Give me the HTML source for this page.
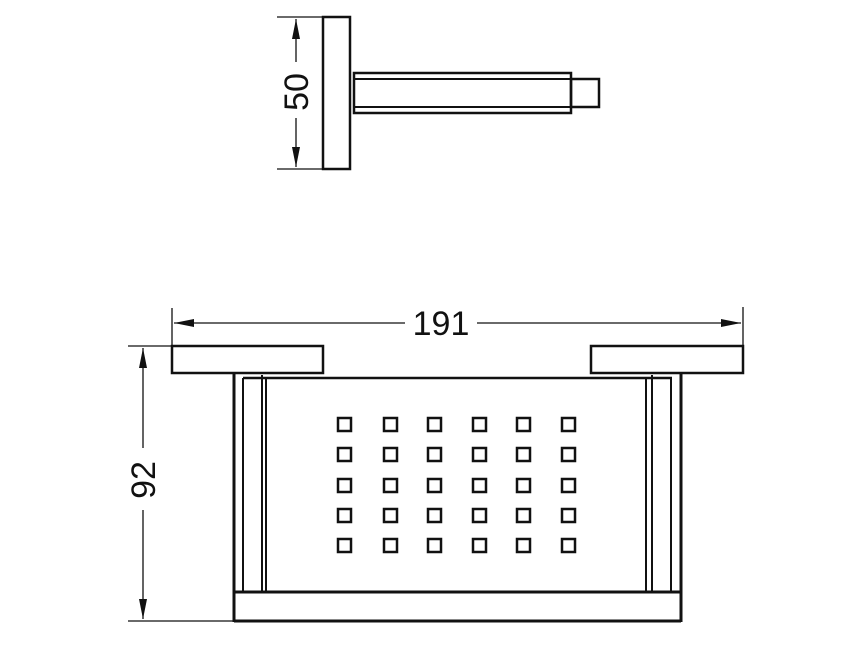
<!DOCTYPE html>
<html><head><style>body{margin:0;background:#fff}svg{display:block}</style></head><body>
<svg width="868" height="665" viewBox="0 0 868 665" xmlns="http://www.w3.org/2000/svg">
<defs><marker id="a" viewBox="0 0 10 10" refX="10" refY="5" markerWidth="10" markerHeight="10" markerUnits="userSpaceOnUse" orient="auto-start-reverse"><path d="M0,1.5L10,5L0,8.5z" fill="#111"/></marker>
<marker id="b" viewBox="0 0 20 10" refX="20" refY="5" markerWidth="20" markerHeight="10" markerUnits="userSpaceOnUse" orient="auto-start-reverse"><path d="M0,1L20,5L0,9z" fill="#111"/></marker></defs>
<g fill="none" stroke="#111" stroke-width="2.5">
<!-- top view -->
<rect x="323" y="17" width="27" height="152"/>
<rect x="354" y="73" width="217" height="40"/>
<line x1="354" y1="79" x2="571" y2="79" stroke-width="2"/>
<line x1="354" y1="107" x2="571" y2="107" stroke-width="2"/>
<rect x="571" y="79" width="28" height="28"/>
<!-- bars -->
<rect x="172" y="346" width="151" height="27"/>
<rect x="591" y="346" width="152" height="27"/>
<!-- walls -->
<line x1="234" y1="373" x2="234" y2="622" stroke-width="3"/>
<line x1="681" y1="373" x2="681" y2="622" stroke-width="3"/>
<line x1="243" y1="378" x2="672" y2="378" stroke-width="2.5"/>
<line x1="243" y1="378" x2="243" y2="592" stroke-width="2"/>
<line x1="262" y1="375" x2="262" y2="592" stroke-width="2"/>
<line x1="266" y1="378" x2="266" y2="592" stroke-width="2"/>
<line x1="646" y1="378" x2="646" y2="592" stroke-width="2"/>
<line x1="652" y1="375" x2="652" y2="592" stroke-width="2"/>
<line x1="671" y1="378" x2="671" y2="592" stroke-width="2"/>
<line x1="234" y1="592" x2="681" y2="592" stroke-width="3"/>
<line x1="234" y1="621" x2="681" y2="621" stroke-width="3"/>
</g>
<g fill="none" stroke="#111" stroke-width="2.5">
<rect x="338" y="418" width="13" height="13"/><rect x="384" y="418" width="13" height="13"/><rect x="428" y="418" width="13" height="13"/><rect x="473" y="418" width="13" height="13"/><rect x="517" y="418" width="13" height="13"/><rect x="562" y="418" width="13" height="13"/>
<rect x="338" y="448" width="13" height="13"/><rect x="384" y="448" width="13" height="13"/><rect x="428" y="448" width="13" height="13"/><rect x="473" y="448" width="13" height="13"/><rect x="517" y="448" width="13" height="13"/><rect x="562" y="448" width="13" height="13"/>
<rect x="338" y="479" width="13" height="13"/><rect x="384" y="479" width="13" height="13"/><rect x="428" y="479" width="13" height="13"/><rect x="473" y="479" width="13" height="13"/><rect x="517" y="479" width="13" height="13"/><rect x="562" y="479" width="13" height="13"/>
<rect x="338" y="509" width="13" height="13"/><rect x="384" y="509" width="13" height="13"/><rect x="428" y="509" width="13" height="13"/><rect x="473" y="509" width="13" height="13"/><rect x="517" y="509" width="13" height="13"/><rect x="562" y="509" width="13" height="13"/>
<rect x="338" y="539" width="13" height="13"/><rect x="384" y="539" width="13" height="13"/><rect x="428" y="539" width="13" height="13"/><rect x="473" y="539" width="13" height="13"/><rect x="517" y="539" width="13" height="13"/><rect x="562" y="539" width="13" height="13"/>
</g>
<g stroke="#111" stroke-width="1.3" fill="none">
<line x1="277" y1="17" x2="323" y2="17"/><line x1="277" y1="169" x2="323" y2="169"/>
<line x1="296" y1="19" x2="296" y2="62" marker-start="url(#b)"/>
<line x1="296" y1="118" x2="296" y2="167" marker-end="url(#b)"/>
<line x1="172" y1="308" x2="172" y2="346"/><line x1="743" y1="307" x2="743" y2="346"/>
<line x1="174" y1="323" x2="405" y2="323" marker-start="url(#b)"/>
<line x1="477" y1="323" x2="741" y2="323" marker-end="url(#b)"/>
<line x1="128" y1="346" x2="172" y2="346"/><line x1="128" y1="621" x2="234" y2="621"/>
<line x1="143" y1="348" x2="143" y2="448" marker-start="url(#b)"/>
<line x1="143" y1="510" x2="143" y2="619" marker-end="url(#b)"/>
</g>
<g font-family="Liberation Sans, sans-serif" font-size="34" fill="#111" text-anchor="middle">
<text x="441" y="335">191</text>
<text transform="translate(308,92) rotate(-90)">50</text>
<text transform="translate(155,480) rotate(-90)">92</text>
</g>
</svg>
</body></html>
